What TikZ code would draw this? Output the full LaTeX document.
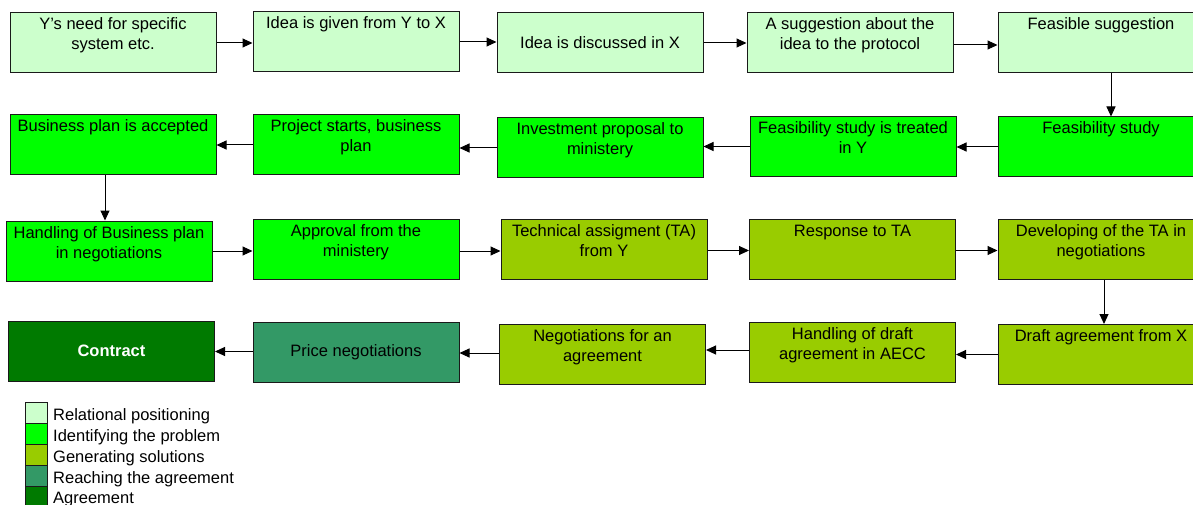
\documentclass[tikz,border=0pt]{standalone}
\usepackage{fontspec}
\setmainfont{Liberation Sans}
\usetikzlibrary{arrows.meta}
\definecolor{cRel}{HTML}{CCFFCC}
\definecolor{cIdent}{HTML}{00FF00}
\definecolor{cGen}{HTML}{99CC00}
\definecolor{cReach}{HTML}{339966}
\definecolor{cAgr}{HTML}{007A00}
\definecolor{cLine}{HTML}{1A1A1A}
\newcommand{\tbx}[1]{\parbox[c][60pt][t]{204pt}{\centering\vspace*{4pt}\rule{0pt}{13pt}#1}}
\tikzset{
  box/.style={draw=cLine, line width=1pt, inner sep=0pt, minimum width=206pt, minimum height=60pt,
    align=center, font=\fontsize{16.5}{20}\selectfont},
  arr/.style={draw=black, line width=1pt, -{Triangle[length=10pt,width=9pt]}},
  leg/.style={draw=cLine, line width=1pt, inner sep=0pt, minimum width=22pt, minimum height=21pt},
  legtxt/.style={anchor=base west, inner sep=0pt, font=\fontsize{16.5}{20}\selectfont}
}
\begin{document}
\begin{tikzpicture}[x=1pt,y=-1pt]
\useasboundingbox[fill=white] (0,0) rectangle (1193,505);
% Row 1
\node[box, fill=cRel] (r1a) at (113,43) {\tbx{Y's need for specific\\system etc.}};
\node[box, fill=cRel] (r1b) at (356,42) {\tbx{Idea is given from Y to X}};
\node[box, fill=cRel] (r1c) at (600,43) {Idea is discussed in X};
\node[box, fill=cRel] (r1d) at (850,43) {\tbx{A suggestion about the\\idea to the protocol}};
\node[box, fill=cRel] (r1e) at (1101,43) {\tbx{Feasible suggestion}};
% Row 2
\node[box, fill=cIdent] (r2a) at (113,145) {\tbx{Business plan is accepted}};
\node[box, fill=cIdent] (r2b) at (356,145) {\tbx{Project starts, business\\plan}};
\node[box, fill=cIdent] (r2c) at (600,148) {\tbx{Investment proposal to\\ministery}};
\node[box, fill=cIdent] (r2d) at (853,146.5) {\tbx{Feasibility study is treated\\in Y}};
\node[box, fill=cIdent] (r2e) at (1101,147) {\tbx{Feasibility study}};
% Row 3
\node[box, fill=cIdent] (r3a) at (109,251) {\tbx{Handling of Business plan\\in negotiations}};
\node[box, fill=cIdent] (r3b) at (356,249.5) {\tbx{Approval from the\\ministery}};
\node[box, fill=cGen] (r3c) at (604,249) {\tbx{Technical assigment (TA)\\from Y}};
\node[box, fill=cGen] (r3d) at (852.5,249) {\tbx{Response to TA}};
\node[box, fill=cGen] (r3e) at (1101,249.5) {\tbx{Developing of the TA in\\negotiations}};
% Row 4
\node[box, fill=cAgr, text=white, font=\fontsize{16.5}{20}\selectfont\bfseries] (r4a) at (111.5,351) {Contract};
\node[box, fill=cReach] (r4b) at (356,352) {Price negotiations};
\node[box, fill=cGen] (r4c) at (602.5,354) {\tbx{Negotiations for an\\agreement}};
\node[box, fill=cGen] (r4d) at (852.5,352) {\tbx{Handling of draft\\agreement in AECC}};
\node[box, fill=cGen] (r4e) at (1101,354.5) {\tbx{Draft agreement from X}};
% Arrows row 1
\draw[arr] (r1a.east) -- (r1a.east -| r1b.west);
\draw[arr] (r1b.east) -- (r1b.east -| r1c.west);
\draw[arr] (r1c.east) -- (r1c.east -| r1d.west);
\draw[arr] ([yshift=-2pt]r1d.east) -- ([yshift=-2pt]r1d.east -| r1e.west);
\draw[arr] ([xshift=10pt]r1e.south) -- ([xshift=10pt]r1e.south |- r2e.north);
% Arrows row 2
\draw[arr] (r2e.west) -- (r2e.west -| r2d.east);
\draw[arr] (r2d.west) -- (r2d.west -| r2c.east);
\draw[arr] (r2c.west) -- (r2c.west -| r2b.east);
\draw[arr] (r2b.west) -- (r2b.west -| r2a.east);
\draw[arr] ([xshift=-8pt]r2a.south) -- ([xshift=-8pt]r2a.south |- r3a.north);
% Arrows row 3
\draw[arr] (r3a.east) -- (r3a.east -| r3b.west);
\draw[arr] ([yshift=-1.5pt]r3b.east) -- ([yshift=-1.5pt]r3b.east -| r3c.west);
\draw[arr] ([yshift=-1.5pt]r3c.east) -- ([yshift=-1.5pt]r3c.east -| r3d.west);
\draw[arr] ([yshift=-1.5pt]r3d.east) -- ([yshift=-1.5pt]r3d.east -| r3e.west);
\draw[arr] ([xshift=3pt]r3e.south) -- ([xshift=3pt]r3e.south |- r4e.north);
% Arrows row 4
\draw[arr] (r4e.west) -- (r4e.west -| r4d.east);
\draw[arr] ([yshift=2pt]r4d.west) -- ([yshift=2pt]r4d.west -| r4c.east);
\draw[arr] ([yshift=1pt]r4c.west) -- ([yshift=1pt]r4c.west -| r4b.east);
\draw[arr] ([yshift=0.5pt]r4b.west) -- ([yshift=0.5pt]r4b.west -| r4a.east);
% Legend
\node[leg, fill=cRel] (l1) at (36.5,413) {};
\node[leg, fill=cIdent] (l2) at (36.5,434) {};
\node[leg, fill=cGen] (l3) at (36.5,455) {};
\node[leg, fill=cReach] (l4) at (36.5,476) {};
\node[leg, fill=cAgr] (l5) at (36.5,497) {};
\node[legtxt] (t1) at (53,420.5) {Relational positioning};
\node[legtxt] (t2) at (53,441.5) {Identifying the problem};
\node[legtxt] (t3) at (53,462.5) {Generating solutions};
\node[legtxt] (t4) at (53,483.5) {Reaching the agreement};
\node[legtxt] (t5) at (53,503.5) {Agreement};
\end{tikzpicture}
\end{document}
